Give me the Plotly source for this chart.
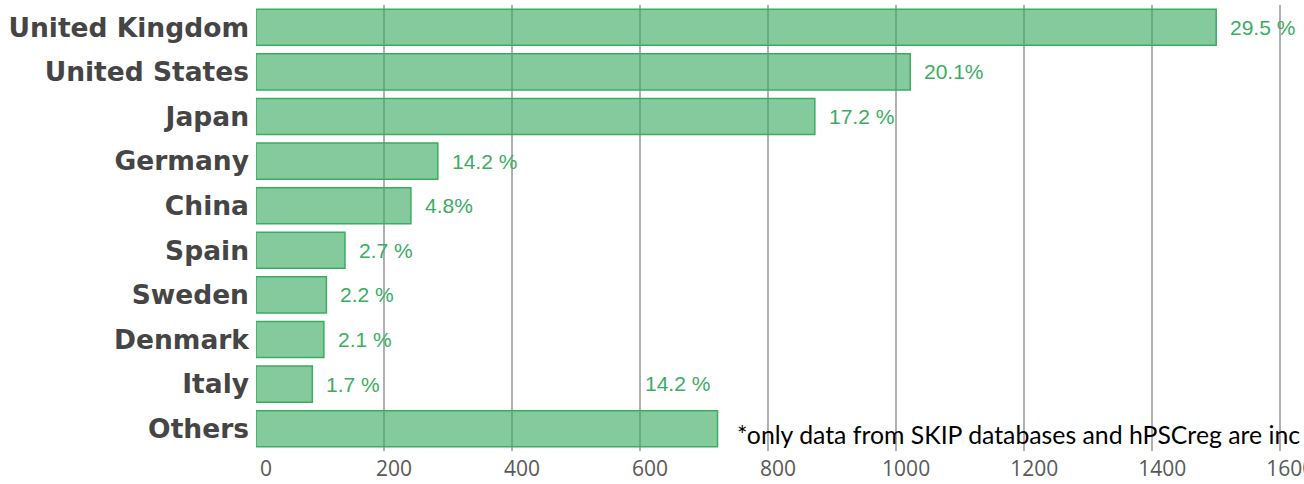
import plotly.graph_objects as go

countries = ["United Kingdom", "United States", "Japan", "Germany", "China",
             "Spain", "Sweden", "Denmark", "Italy", "Others"]
counts = [1500, 1022, 873, 284, 242, 139, 110, 106, 88, 721]
pct_labels = ["29.5 %", "20.1%", "17.2 %", "14.2 %", "4.8%",
              "2.7 %", "2.2 %", "2.1 %", "1.7 %", "14.2 %"]
x_ticks = [0, 200, 400, 600, 800, 1000, 1200, 1400, 1600]
note = "*only data from SKIP databases and hPSCreg are inc"

GREEN = "#3aad62"
PCT_FONT = dict(family="Liberation Sans, Arial", size=21, color=GREEN)

fig = go.Figure(go.Bar(
    x=counts, y=countries, orientation="h",
    marker=dict(color="rgba(56,170,96,0.62)", line=dict(color=GREEN, width=1.5)),
    hoverinfo="skip",
))

anns = []
for c, v, t in zip(countries, counts, pct_labels):
    if c == "Others":
        anns.append(dict(x=v, y=c, text=t, xref="x", yref="y", showarrow=False,
                         xanchor="right", xshift=-6, yshift=45, font=PCT_FONT))
    else:
        anns.append(dict(x=v, y=c, text=t, xref="x", yref="y", showarrow=False,
                         xanchor="left", xshift=12, font=PCT_FONT))

anns.append(dict(x=748, y="Others", xref="x", yref="y", text=note, showarrow=False,
                 xanchor="left", yshift=-6,
                 font=dict(family="Lato, Carlito, sans-serif", size=24.8, color="#000000")))

fig.update_layout(
    width=1304, height=484,
    margin=dict(l=256, r=11, t=5, b=33, autoexpand=False),
    paper_bgcolor="white", plot_bgcolor="white",
    showlegend=False, bargap=0.19,
    annotations=anns,
    xaxis=dict(range=[0, 1620], tickvals=x_ticks, showgrid=True, automargin=False,
               gridcolor="#b0b0b0", gridwidth=1.5, zeroline=False, showline=False,
               tickfont=dict(family="Open Sans", size=21, color="#595959"),
               ticklabelshift=10, ticklabelstandoff=3, ticklabeloverflow="allow"),
    yaxis=dict(range=[9.5, -0.5], showgrid=False, zeroline=False, showline=False,
               automargin=False,
               tickfont=dict(family="DejaVu Sans", size=26.5, color="#454545",
                             weight="bold"),
               ticklabelstandoff=6),
)

fig.write_html("out.html")
